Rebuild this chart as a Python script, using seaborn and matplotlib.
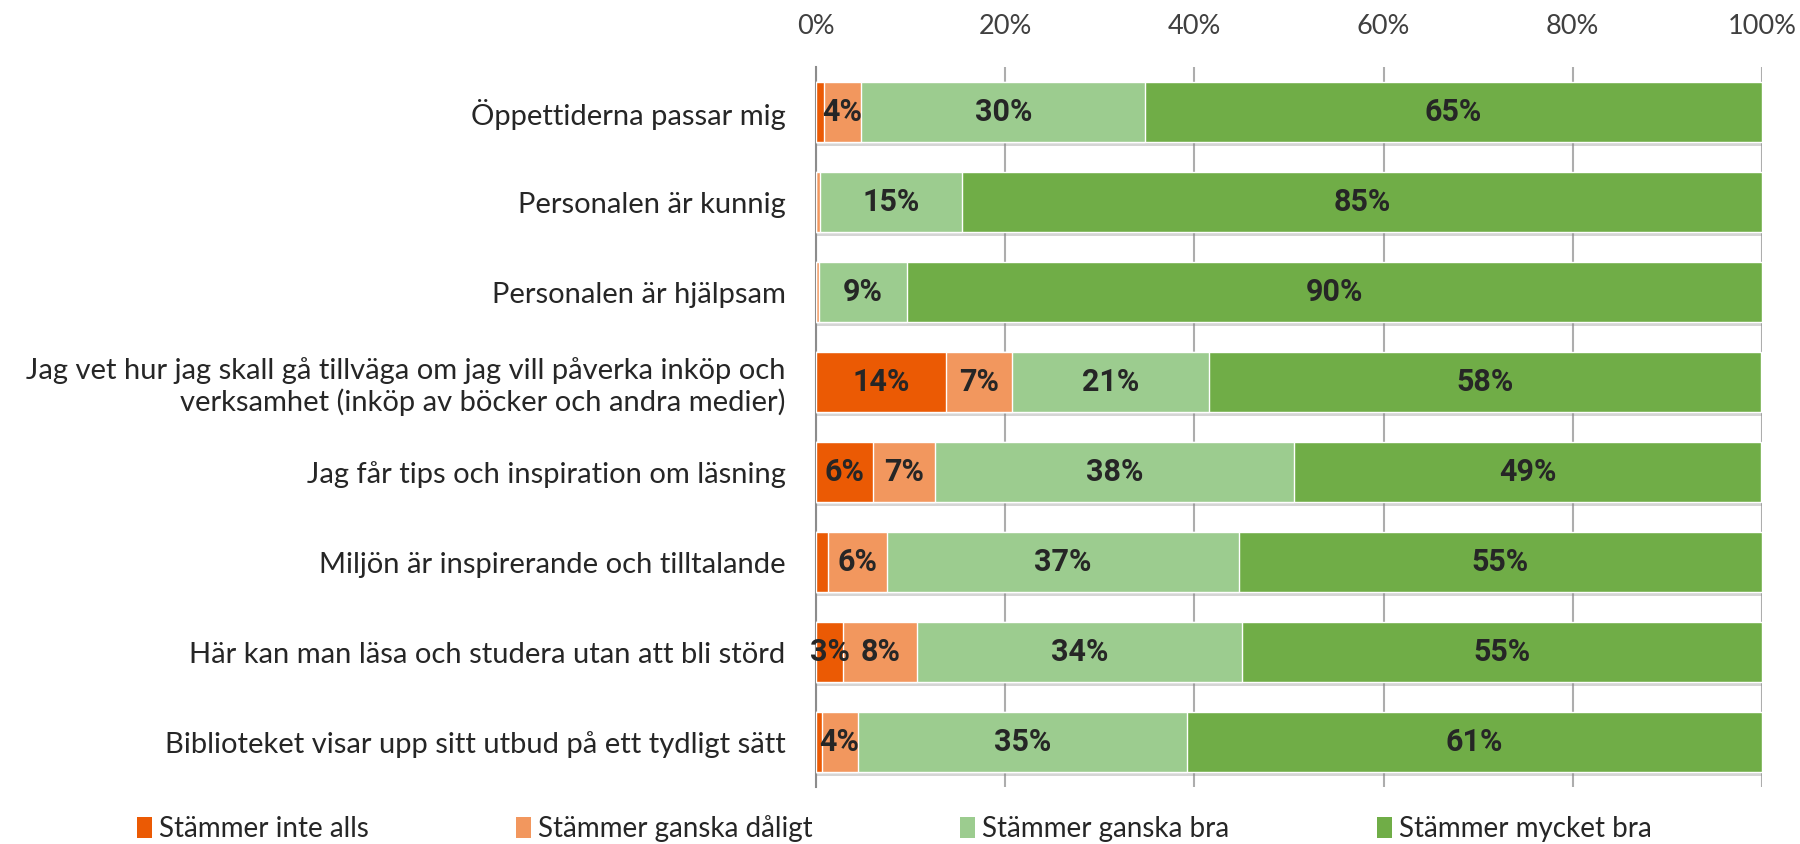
import numpy as np
import matplotlib
matplotlib.use("Agg")
import matplotlib.pyplot as plt
import matplotlib.patheffects as pe
from matplotlib.patches import Patch
import seaborn as sns

# data (percent of respondents)
categories = [
    "Öppettiderna passar mig",
    "Personalen är kunnig",
    "Personalen är hjälpsam",
    "Jag vet hur jag skall gå tillväga om jag vill påverka inköp och\nverksamhet (inköp av böcker och andra medier)",
    "Jag får tips och inspiration om läsning",
    "Miljön är inspirerande och tilltalande",
    "Här kan man läsa och studera utan att bli störd",
    "Biblioteket visar upp sitt utbud på ett tydligt sätt",
]
inte_alls = [0.8, 0.0, 0.0, 13.7, 6.0, 1.3, 2.9, 0.6]
ganska_daligt = [4.0, 0.4, 0.3, 7.0, 6.6, 6.2, 7.8, 3.8]
ganska_bra = [30.0, 15.0, 9.3, 20.8, 37.9, 37.2, 34.3, 34.8]
mycket_bra = [65.2, 84.6, 90.4, 58.4, 49.4, 55.3, 55.0, 60.8]

series_names = ["Stämmer inte alls", "Stämmer ganska dåligt",
                "Stämmer ganska bra", "Stämmer mycket bra"]
colors = ["#EB5A04", "#F2975E", "#9CCC8F", "#70AD47"]

sns.set_style("white")
plt.rcParams["font.family"] = ["Lato", "DejaVu Sans"]

fig = plt.figure(figsize=(18, 8.44), dpi=100)
ax = fig.add_axes([0.4533, 0.0675, 0.5256, 0.8531])

series = [inte_alls, ganska_daligt, ganska_bra, mycket_bra]
cum = np.cumsum(np.array(series), axis=0)

# stacked bars: draw cumulative totals from the outermost layer inwards
for i in range(3, -1, -1):
    sns.barplot(x=cum[i], y=categories, orient="h", color=colors[i],
                width=0.667, saturation=1, ax=ax, zorder=3)
    if i == 3:
        for p in ax.patches:
            p.set_path_effects([pe.SimplePatchShadow(offset=(1, -3), shadow_rgbFace="#888888", alpha=0.35),
                                pe.Normal()])

# value labels
for i, vals in enumerate(series):
    starts = cum[i] - np.array(vals)
    for j, v in enumerate(vals):
        if v >= 2:
            ax.text(starts[j] + v / 2, j, f"{v:.0f}%", ha="center", va="center",
                    fontsize=22, fontweight="bold", color="#262626", zorder=5,
                    family=["Roboto", "DejaVu Sans"])

ax.set_xlim(0, 100)
ax.set_ylim(7.5, -0.5)
ax.xaxis.tick_top()
ax.set_xticks(np.arange(0, 101, 20))
ax.set_xticklabels([f"{t}%" for t in range(0, 101, 20)])
ax.tick_params(axis="x", length=0, pad=20, labelsize=19.5, labelcolor="#404040")
ax.grid(axis="x", color="#ADADAD", linewidth=1.5, zorder=0)
ax.set_axisbelow(True)

ax.set_yticks(np.arange(-0.5, 8, 1), minor=False)
ax.set_yticklabels([])
ax.set_yticks(np.arange(0, 8), minor=True)
ax.set_yticklabels(categories, minor=True)
ax.tick_params(axis="y", which="major", length=5, width=1.5, color="#8C8C8C", direction="out")
ax.tick_params(axis="y", which="minor", length=0, pad=22, labelsize=21, labelcolor="#262626")
for t in ax.get_yticklabels(minor=True):
    t.set_multialignment("right")

ax.set_xlabel("")
ax.set_ylabel("")
for s in ["top", "right", "bottom"]:
    ax.spines[s].set_visible(False)
ax.spines["left"].set_color("#8C8C8C")
ax.spines["left"].set_linewidth(1.5)

handles = [Patch(facecolor=c, edgecolor="none") for c in colors]
fig.legend(handles, series_names, loc="center left", bbox_to_anchor=(0.062, 0.018),
           ncol=4, frameon=False, fontsize=20, handlelength=0.55, handleheight=0.8,
           handletextpad=0.25, columnspacing=5.3, labelcolor="#262626")

fig.savefig("out.png", dpi=100)
